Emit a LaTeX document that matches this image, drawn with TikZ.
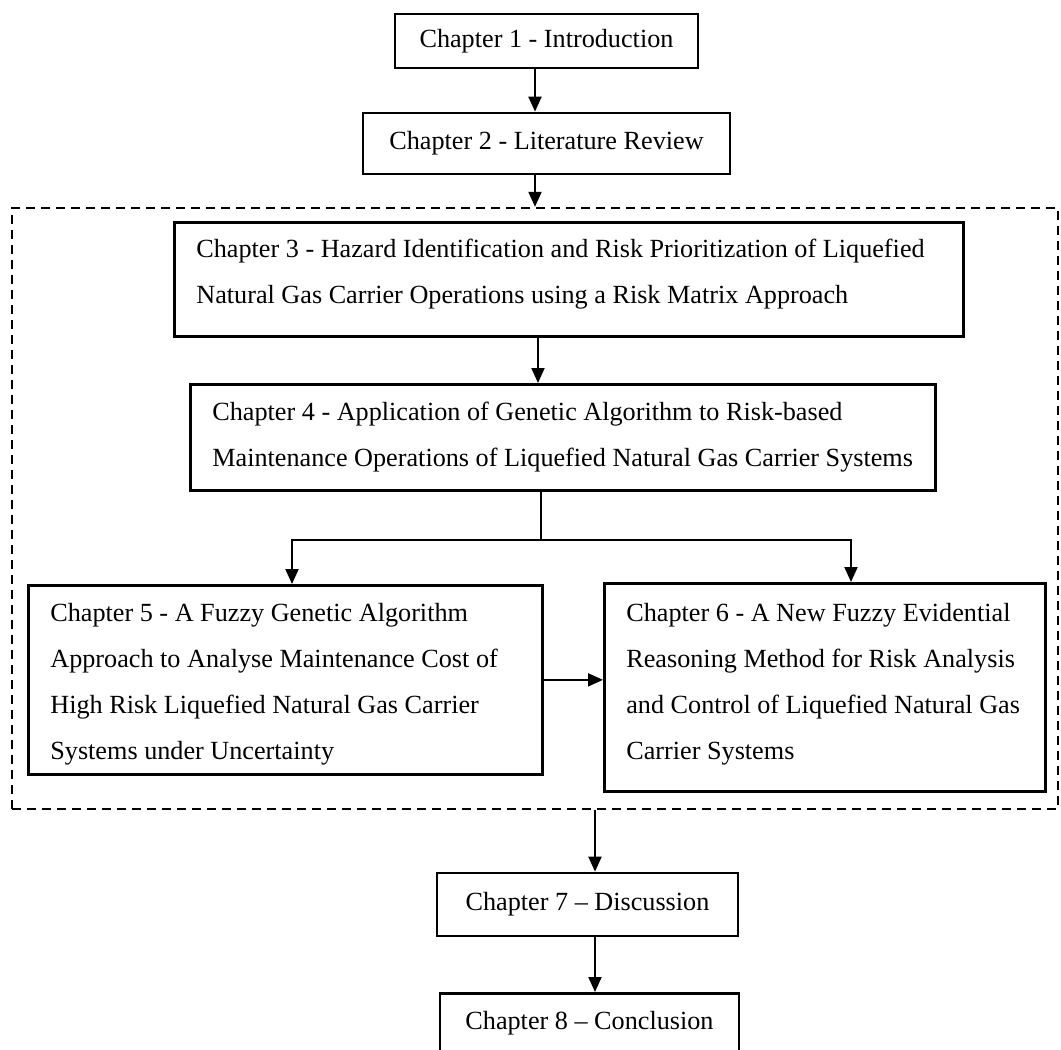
\documentclass[tikz,border=0pt]{standalone}
\usepackage{fontspec}
\setmainfont{Liberation Serif}
\usetikzlibrary{arrows.meta}
% one unbroken line of box text, with the font's own word spacing
\newcommand\chline[1]{\mbox{\spaceskip=0pt\xspaceskip=0pt\relax#1}}
\begin{document}
\begin{tikzpicture}[x=1pt,y=-1pt,
  chbox/.style={draw, line width=2.7pt, rectangle, inner sep=0pt,
    font=\fontsize{26.2pt}{46pt}\selectfont},
  multibox/.style={chbox, inner xsep=22pt, inner ysep=0pt, anchor=north west},
  grpbox/.style={draw, line width=2.4pt, dash pattern=on 9pt off 6pt, inner sep=0pt},
  link/.style={line width=2pt, -{Triangle[length=15pt,width=13pt]}},
  plain/.style={line width=2pt}]
\useasboundingbox (0,0) rectangle (1061,1050);
\clip (0,0) rectangle (1061,1050);

% chapters before the core study
\node[chbox, minimum width=303pt, minimum height=54pt] (b1) at (546.5,41) {Chapter 1 - Introduction};
\node[chbox, minimum width=367pt, minimum height=61pt] (b2) at (546.5,143.5) {Chapter 2 - Literature Review};

% dashed frame around the core chapters
\node[grpbox, minimum width=1046pt, minimum height=601pt] (grp) at (535,508.5) {};

\node[multibox, text width=745pt, text height=35pt, text depth=79pt] (b3) at (173,221)
  {\chline{Chapter 3 - Hazard Identification and Risk Prioritization of Liquefied}\\
   \chline{Natural Gas Carrier Operations using a Risk Matrix Approach}};
\node[multibox, text width=701pt, text height=36pt, text depth=70pt] (b4) at (189,383)
  {\chline{Chapter 4 - Application of Genetic Algorithm to Risk-based}\\
   \chline{Maintenance Operations of Liquefied Natural Gas Carrier Systems}};
\node[multibox, text width=470pt, text height=36pt, text depth=153pt] (b5) at (27,584)
  {\chline{Chapter 5 - A Fuzzy Genetic Algorithm}\\
   \chline{Approach to Analyse Maintenance Cost of}\\
   \chline{High Risk Liquefied Natural Gas Carrier}\\
   \chline{Systems under Uncertainty}};
\node[multibox, text width=397pt, text height=38pt, text depth=170pt] (b6) at (603,582)
  {\chline{Chapter 6 - A New Fuzzy Evidential}\\
   \chline{Reasoning Method for Risk Analysis}\\
   \chline{and Control of Liquefied Natural Gas}\\
   \chline{Carrier Systems}};

% closing chapters
\node[chbox, minimum width=301pt, minimum height=63pt] (b7) at (587.5,904.5) {Chapter 7 – Discussion};
\node[chbox, minimum width=299pt, text height=36pt, text depth=100pt, anchor=north] (b8) at (589.5,992) {Chapter 8 – Conclusion};

% connectors
\coordinate (xa) at (535,0);
\coordinate (xb) at (538,0);
\coordinate (xc) at (595,0);
\coordinate (split) at (541,540);
\coordinate (j5) at (292,540);
\coordinate (j6) at (851,540);

\draw[link] (b1.south -| xa) -- (b2.north -| xa);
\draw[link] (b2.south -| xa) -- (grp.north -| xa);
\draw[link] (b3.south -| xb) -- (b4.north -| xb);
\draw[plain] (b4.south -| split) -- (split);
\draw[link] (split) -- (j5) -- (b5.north -| j5);
\draw[link] (split) -- (j6) -- (b6.north -| j6);
\draw[link] (b5.east) -- (b6.west |- b5.east);
\draw[link] (grp.south -| xc) -- (b7.north -| xc);
\draw[link] (b7.south -| xc) -- (b8.north -| xc);
\end{tikzpicture}
\end{document}
